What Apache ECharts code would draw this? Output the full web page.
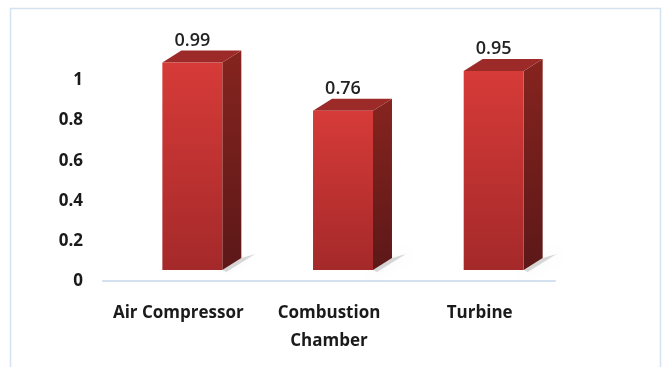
<!DOCTYPE html>
<html><head><meta charset="utf-8">
<script src="https://cdn.jsdelivr.net/npm/echarts@6/dist/echarts.min.js"></script>
<style>html,body{margin:0;padding:0;background:#fff}#c{width:666px;height:367px}</style>
</head><body><div id="c"></div>
<script>
const categories = ['Air Compressor', 'Combustion\nChamber', 'Turbine'];
const values = [0.99, 0.76, 0.95];
const valueLabels = ['0.99', '0.76', '0.95'];
const yTicks = [0, 0.2, 0.4, 0.6, 0.8, 1];

const chart = echarts.init(document.getElementById('c'));
const FONT = '"Open Sans", Lato, sans-serif';

function renderItem(params, api) {
  const idx = api.value(0);
  const v = api.value(1);
  const base = api.coord([idx, 0]);
  const top = api.coord([idx, v]);
  const band = api.size([1, 0])[0];
  const h = (base[1] - top[1]) * 1.045;
  const fw = band * 0.398;
  const fx0 = base[0] - band * 0.106;
  const fyB = base[1] - 11;
  const fyT = fyB - h;
  const dx = 19, dy = 12;
  return {
    type: 'group',
    children: [
      { type: 'polygon', shape: { points: [[fx0 + fw, fyB], [fx0 + fw + dx, fyB - dy], [fx0 + fw + dx + 14, fyB - dy - 4], [fx0 + fw + 4, fyB + 2]] },
        style: { fill: 'rgba(0,0,0,0.15)', shadowBlur: 8, shadowColor: 'rgba(0,0,0,0.3)' } },
      { type: 'polygon', shape: { points: [[fx0 + fw, fyT], [fx0 + fw + dx, fyT - dy], [fx0 + fw + dx, fyB - dy], [fx0 + fw, fyB]] },
        style: { fill: new echarts.graphic.LinearGradient(0, 0, 0, 1, [{ offset: 0, color: '#86241f' }, { offset: 1, color: '#5c1818' }]) } },
      { type: 'polygon', shape: { points: [[fx0, fyT], [fx0 + fw, fyT], [fx0 + fw + dx, fyT - dy], [fx0 + dx, fyT - dy]] },
        style: { fill: '#9c2a28' } },
      { type: 'rect', shape: { x: fx0, y: fyT, width: fw, height: h },
        style: { fill: new echarts.graphic.LinearGradient(0, 0, 0, 1, [{ offset: 0, color: '#d63b38' }, { offset: 1, color: '#a5292a' }]) } },
      { type: 'text', style: { text: valueLabels[idx], x: fx0 + fw / 2, y: fyT - dy - 10, align: 'center', verticalAlign: 'middle',
          font: '600 18px ' + FONT, fill: '#222' } }
    ]
  };
}

chart.setOption({
  animation: false,
  graphic: [{ type: 'rect', shape: { x: 10.5, y: 8.5, width: 650, height: 400 }, style: { fill: 'none', stroke: '#d5e2f0', lineWidth: 1.5 }, z: -1 }],
  grid: { left: 103, right: 111, top: 80.5, bottom: 86 },
  xAxis: {
    type: 'category', data: categories,
    axisLine: { lineStyle: { color: '#d3e0ef', width: 2 } },
    axisTick: { show: false },
    axisLabel: { margin: 18, fontFamily: FONT, fontSize: 17, fontWeight: 'bold', color: '#1a1a1a', lineHeight: 28, interval: 0 }
  },
  yAxis: {
    type: 'value', min: 0, max: 1, interval: 0.2,
    splitLine: { show: false }, axisLine: { show: false }, axisTick: { show: false },
    axisLabel: { margin: 20, fontFamily: FONT, fontSize: 17, fontWeight: 'bold', color: '#1a1a1a',
      formatter: function (v) { const t = yTicks.find(x => Math.abs(x - v) < 1e-9); return String(t !== undefined ? t : v); } }
  },
  series: [{
    type: 'custom', renderItem: renderItem,
    data: values.map((v, i) => [i, v]),
    encode: { x: 0, y: 1 }
  }]
});
</script></body></html>
